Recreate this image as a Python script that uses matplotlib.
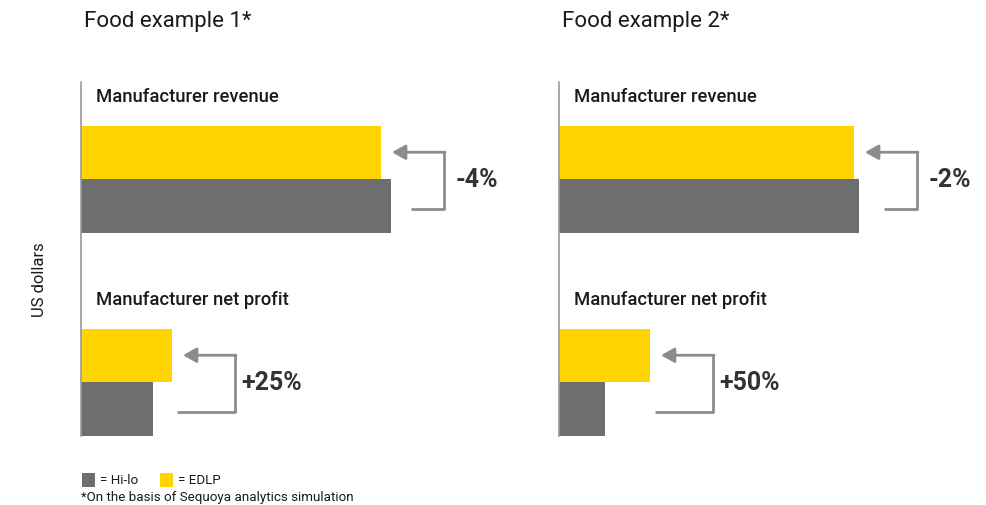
import matplotlib
matplotlib.use('Agg')
import matplotlib.pyplot as plt
from matplotlib.patches import Rectangle

# values in arbitrary dollar units (chart has no scale)
categories = ['Manufacturer revenue', 'Manufacturer net profit']
titles = ['Food example 1*', 'Food example 2*']
hilo = [[310, 72], [300, 46]]
edlp = [[300, 91], [295, 91]]
changes = [['-4%', '+25%'], ['-2%', '+50%']]

YELLOW = '#FFD400'
GREY = '#6E6E6E'
ARROW = '#8C8C8C'
TEXT = '#1A1A1A'

W, H = 987, 505
fig = plt.figure(figsize=(W / 100, H / 100), dpi=100)
plt.rcParams['font.family'] = ['Roboto', 'DejaVu Sans']


def px_axes(left, top, width, height):
    return fig.add_axes([left / W, 1 - (top + height) / H, width / W, height / H])


group_y = [97, 300]
bar_h = 53.5
lefts = [81, 559]

for p in range(2):
    ax = px_axes(lefts[p], 82, 420, 354)
    ax.set_xlim(0, 420)
    ax.set_ylim(354, 0)
    for s in ['top', 'right', 'bottom']:
        ax.spines[s].set_visible(False)
    ax.spines['left'].set_color('#9A9A9A')
    ax.spines['left'].set_linewidth(1.2)
    ax.set_xticks([])
    ax.set_yticks([])

    yc = group_y
    ax.barh([y - bar_h / 2 for y in yc], edlp[p], height=bar_h, color=YELLOW, linewidth=0)
    ax.barh([y + bar_h / 2 for y in yc], hilo[p], height=bar_h, color=GREY, linewidth=0)

    for i, cat in enumerate(categories):
        ax.text(15, yc[i] - 82, cat, fontsize=13.3, fontweight='medium',
                color=TEXT, va='center', ha='left')

        # bracket arrow pointing from the Hi-lo bar level to the EDLP bar
        tip = edlp[p][i] + 11
        right = tip + 52
        y_top = yc[i] - bar_h / 2
        y_bot = yc[i] + bar_h / 2 + 3
        bot_left = tip + (19 if i == 0 else -6)
        ax.plot([right, right, bot_left], [y_top, y_bot, y_bot],
                color=ARROW, lw=2, solid_capstyle='butt', clip_on=False)
        ax.annotate('', xy=(tip, y_top), xytext=(right + 1, y_top),
                    arrowprops=dict(arrowstyle='-|>,head_length=0.8,head_width=0.45',
                                    color=ARROW, lw=2, shrinkA=0, shrinkB=0),
                    annotation_clip=False)
        gap = 12 if changes[p][i].startswith('-') else 6
        ax.text(right + gap, yc[i] + 1, changes[p][i], fontsize=18, fontweight='bold',
                color='#333333', va='center', ha='left')

    fig.text((lefts[p] + 3) / W, 1 - 22 / H, titles[p], fontsize=16,
             color=TEXT, va='center', ha='left')

fig.text(40 / W, 1 - 280 / H, 'US dollars', rotation=90, fontsize=12,
         color=TEXT, va='center', ha='center')

# legend
for x0, col, lab in [(82, GREY, '= Hi-lo'), (160, YELLOW, '= EDLP')]:
    fig.patches.append(Rectangle((x0 / W, 1 - 487 / H), 13 / W, 14 / H,
                                 transform=fig.transFigure, color=col, linewidth=0))
    fig.text((x0 + 18) / W, 1 - 480 / H, lab, fontsize=9.6, color=TEXT,
             va='center', ha='left')
fig.text(81 / W, 1 - 497 / H, '*On the basis of Sequoya analytics simulation',
         fontsize=9.6, color=TEXT, va='center', ha='left')

fig.savefig('out.png', dpi=100)
